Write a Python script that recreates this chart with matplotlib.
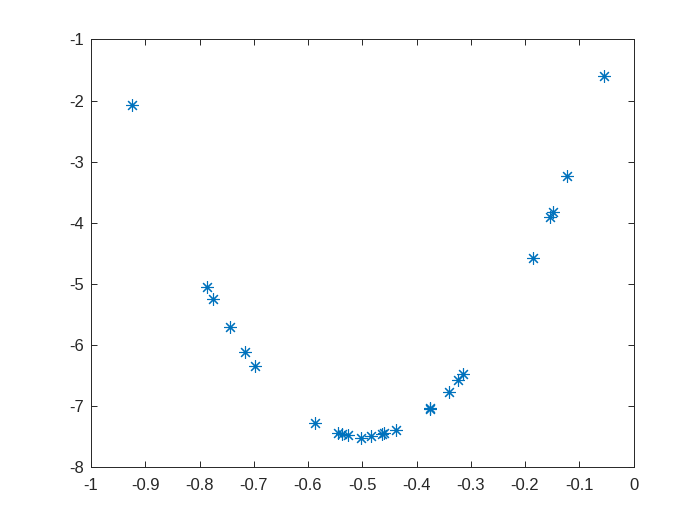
import numpy as np
import matplotlib
matplotlib.use('Agg')
import matplotlib.pyplot as plt

# values
xvals = [-0.924, -0.786, -0.775, -0.744, -0.716, -0.697, -0.587,
         -0.544, -0.537, -0.526, -0.502, -0.483, -0.463, -0.459, -0.437,
         -0.375, -0.375, -0.341, -0.323, -0.314,
         -0.186, -0.153, -0.149, -0.122, -0.055]
yvals = [-2.08, -5.05, -5.25, -5.71, -6.11, -6.34, -7.28,
         -7.44, -7.46, -7.47, -7.52, -7.49, -7.46, -7.44, -7.39,
         -7.03, -7.05, -6.77, -6.57, -6.47,
         -4.57, -3.90, -3.82, -3.24, -1.60]

xticks = np.round(np.arange(-1, 0.01, 0.1), 1)
yticks = np.arange(-8, -0.5, 1)

plt.rcParams['font.family'] = ['Liberation Sans', 'DejaVu Sans']

fig = plt.figure(figsize=(7, 5.25), dpi=100)
ax = fig.add_axes([0.13, 0.11, 0.775, 0.815])

# matlab style asterisk: 8 spokes
ax.plot(xvals, yvals, linestyle='none', marker=(8, 2, 0), color='#0072BD',
        markersize=9, markeredgewidth=0.8)

ax.set_xlim(-1, 0)
ax.set_ylim(-8, -1)
ax.set_xticks(xticks)
ax.set_xticklabels(['{:g}'.format(t) if t != 0 else '0' for t in xticks])
ax.set_yticks(yticks)
ax.set_yticklabels(['{:g}'.format(t) for t in yticks])

edge = (0.15, 0.15, 0.15)
for s in ax.spines.values():
    s.set_color(edge)
    s.set_linewidth(0.7)
ax.tick_params(direction='in', top=True, right=True, length=4, width=0.7,
               colors=edge, labelsize=12, labelcolor=edge)
ax.tick_params(axis='x', pad=8)
ax.tick_params(axis='y', pad=5)

fig.savefig('out.png', dpi=100)
